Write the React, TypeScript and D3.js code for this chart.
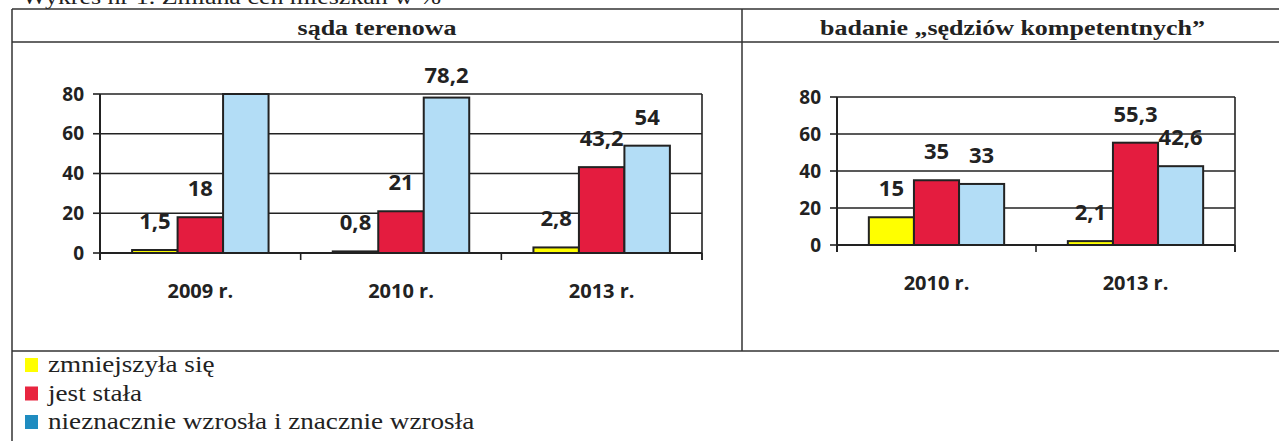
import { scaleBand, scaleLinear } from 'd3';

// Data (values in %)
const leftCategories = ['2009 r.', '2010 r.', '2013 r.'];
const leftDecreased = [1.5, 0.8, 2.8];
const leftStable = [18, 21, 43.2];
const leftIncreased = [80, 78.2, 54];

const rightCategories = ['2010 r.', '2013 r.'];
const rightDecreased = [15, 2.1];
const rightStable = [35, 55.3];
const rightIncreased = [33, 42.6];

const yTicks = [0, 20, 40, 60, 80];
const seriesNames = ['zmniejszyła się', 'jest stała', 'nieznacznie wzrosła i znacznie wzrosła'];
const panelTitles = ['sąda terenowa', 'badanie „sędziów kompetentnych”'];
const pageTitle = 'Wykres nr 1. Zmiana cen mieszkań w %';

const barColors = ['#ffff00', '#e41c3f', '#b3ddf6'];
const legendColors = ['#ffff00', '#e8253f', '#1f8cc0'];
const ink = '#222';
const chartFont = '"Open Sans", sans-serif';
const serifFont = '"Liberation Serif", serif';

interface PanelProps {
  categories: string[];
  series: number[][];
  left: number;
  right: number;
  top: number;
  bottom: number;
}

function BarPanel({ categories, series, left, right, top, bottom }: PanelProps) {
  const yMax = yTicks[yTicks.length - 1];
  const y = scaleLinear().domain([0, yMax]).range([bottom, top]);
  const x0 = scaleBand<string>()
    .domain(categories)
    .range([left, right])
    .paddingInner(0.32)
    .paddingOuter(0.16);
  const x1 = scaleBand<number>()
    .domain(series.map((_, i) => i))
    .range([0, x0.bandwidth()]);
  const step = x0.step();
  const boundaries = [...categories.map((_, i) => left + i * step), right];

  return (
    <g>
      {/* grid lines */}
      {yTicks.filter((t) => t > 0).map((t) => (
        <line key={t} x1={left} x2={right} y1={y(t)} y2={y(t)} stroke={ink} strokeWidth={1.6} />
      ))}
      {/* y ticks and labels */}
      {yTicks.map((t) => (
        <g key={t}>
          <line x1={left - 7} x2={left} y1={y(t)} y2={y(t)} stroke={ink} strokeWidth={1.6} />
          <text
            x={left - 16}
            y={y(t)}
            dy="0.35em"
            textAnchor="end"
            fontFamily={chartFont}
            fontWeight={700}
            fontSize={19}
            fill={ink}
          >
            {t}
          </text>
        </g>
      ))}
      {/* bars */}
      {categories.map((c, ci) => (
        <g key={c} transform={`translate(${x0(c)},0)`}>
          {series.map((s, si) => (
            <rect
              key={si}
              x={x1(si)}
              y={y(s[ci])}
              width={x1.bandwidth()}
              height={bottom - y(s[ci])}
              fill={barColors[si]}
              stroke={ink}
              strokeWidth={2}
            />
          ))}
        </g>
      ))}
      {/* axes */}
      <line x1={left} x2={left} y1={top} y2={bottom + 7} stroke={ink} strokeWidth={2} />
      <line x1={right} x2={right} y1={top} y2={bottom + 7} stroke={ink} strokeWidth={1.6} />
      <line x1={left} x2={right} y1={bottom} y2={bottom} stroke={ink} strokeWidth={2} />
      {boundaries.map((bx, i) => (
        <line key={i} x1={bx} x2={bx} y1={bottom} y2={bottom + 7} stroke={ink} strokeWidth={1.6} />
      ))}
      {/* value labels (the clipped 80 in 2009 has none in the original) */}
      {categories.map((c, ci) =>
        series.map((s, si) =>
          s[ci] < yMax ? (
            <text
              key={`${c}-${si}`}
              x={(x0(c) ?? 0) + (x1(si) ?? 0) + x1.bandwidth() / 2}
              y={Math.max(y(s[ci]) - 21, top - 11)}
              textAnchor="middle"
              fontFamily={chartFont}
              fontWeight={700}
              fontSize={22}
              fill={ink}
            >
              {String(s[ci]).replace('.', ',')}
            </text>
          ) : null
        )
      )}
      {/* category labels */}
      {categories.map((c) => (
        <text
          key={c}
          x={(x0(c) ?? 0) + x0.bandwidth() / 2}
          y={bottom + 45}
          textAnchor="middle"
          fontFamily={chartFont}
          fontWeight={700}
          fontSize={20}
          fill={ink}
        >
          {c}
        </text>
      ))}
    </g>
  );
}

function SerifText({ x, y, text, bold, anchor, size = 22 }: { x: number; y: number; text: string; bold?: boolean; anchor?: string; size?: number }) {
  return (
    <text
      transform={`translate(${x},${y}) scale(1.18,1)`}
      textAnchor={anchor ?? 'start'}
      fontFamily={serifFont}
      fontWeight={bold ? 700 : 400}
      fontSize={size}
      fill={ink}
    >
      {text}
    </text>
  );
}

export default function App() {
  const width = 1279;
  const height = 441;
  const tableLeft = 12;
  const tableTop = 9;
  const headerBottom = 42;
  const rowBottom = 351;
  const divider = 742;

  return (
    <div style={{ position: 'absolute', left: 0, top: 0, background: '#fff' }}>
      <svg width={width} height={height} style={{ display: 'block' }}>
        <rect width={width} height={height} fill="#fff" />
        {/* page title, cropped by the scan's top edge */}
        <SerifText x={22} y={4} text={pageTitle} />

        {/* table frame */}
        <g stroke="#333" strokeWidth={1.5}>
          <line x1={tableLeft} x2={width} y1={tableTop} y2={tableTop} />
          <line x1={tableLeft} x2={width} y1={headerBottom} y2={headerBottom} />
          <line x1={tableLeft} x2={width} y1={rowBottom} y2={rowBottom} />
          <line x1={tableLeft} x2={tableLeft} y1={tableTop} y2={height} />
          <line x1={divider} x2={divider} y1={tableTop} y2={rowBottom} />
        </g>

        <SerifText x={(tableLeft + divider) / 2} y={35} text={panelTitles[0]} bold anchor="middle" />
        <SerifText x={(divider + width) / 2 + 2} y={35} text={panelTitles[1]} bold anchor="middle" />

        <BarPanel
          categories={leftCategories}
          series={[leftDecreased, leftStable, leftIncreased]}
          left={100}
          right={702}
          top={94}
          bottom={253}
        />
        <BarPanel
          categories={rightCategories}
          series={[rightDecreased, rightStable, rightIncreased]}
          left={837}
          right={1235}
          top={97}
          bottom={245}
        />

        {/* legend */}
        {seriesNames.map((name, i) => (
          <g key={name}>
            <rect x={25} y={358 + i * 28.5} width={13} height={14} fill={legendColors[i]} />
            <SerifText x={48} y={372 + i * 28.5} text={name} size={23} />
          </g>
        ))}
      </svg>
    </div>
  );
}
